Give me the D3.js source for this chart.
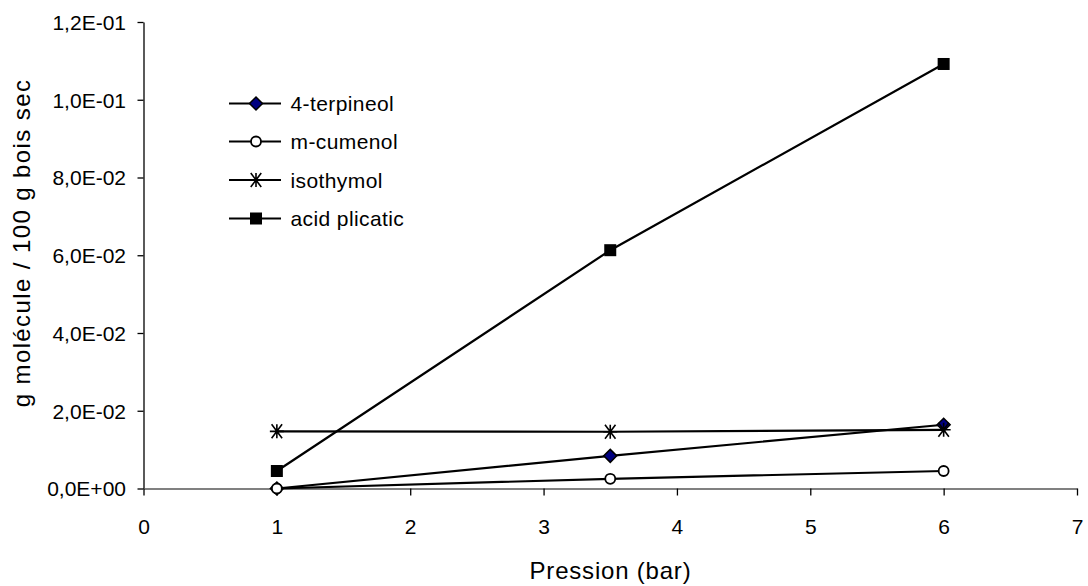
<!DOCTYPE html>
<html><head><meta charset="utf-8">
<script src="https://cdn.jsdelivr.net/npm/d3@7"></script>
<style>body{margin:0;background:#fff;}svg{display:block;font-family:"Liberation Sans",Arial,sans-serif;}</style>
</head><body><svg id="c" width="1088" height="586"></svg>
<script>
const pressures = [1, 3.5, 6];
const terpineol = [0.0, 0.0084, 0.0164];
const cumenol = [0.0, 0.0025, 0.0045];
const isothymol = [0.0147, 0.0146, 0.0151];
const acidPlicatic = [0.0045, 0.0613, 0.1092];
const seriesNames = ["4-terpineol", "m-cumenol", "isothymol", "acid plicatic"];
const seriesMarkers = ["diamond", "circle", "star", "square"];
const xTicks = [0,1,2,3,4,5,6,7];
const yTicks = [0,0.02,0.04,0.06,0.08,0.10,0.12];
const yTickLabels = ["0,0E+00","2,0E-02","4,0E-02","6,0E-02","8,0E-02","1,0E-01","1,2E-01"];

const seriesValues = [terpineol, cumenol, isothymol, acidPlicatic];
const FONT = "Liberation Sans, Arial, sans-serif";
const svg = d3.select("#c");
const x = d3.scaleLinear().domain([0,7]).range([143.5,1077]);
const y = d3.scaleLinear().domain([0,0.12]).range([488.5,22]);

// y axis
const ya = svg.append("g").attr("transform","translate(143.5,0)")
  .call(d3.axisLeft(y).tickValues(yTicks).tickSize(6).tickSizeOuter(0).tickFormat((d,i)=>yTickLabels[i]));
ya.select(".domain").attr("stroke","#000").attr("stroke-width",1.3);
ya.selectAll(".tick line").attr("stroke","#000").attr("stroke-width",1.3);
ya.selectAll(".tick text").attr("font-size",21).attr("fill","#000").attr("x",-17.5).attr("dy","0.35em").attr("font-family",FONT);

// x axis
const xa = svg.append("g").attr("transform","translate(0,488.5)")
  .call(d3.axisBottom(x).tickValues(xTicks).tickSize(7).tickSizeOuter(0).tickFormat(d3.format("d")));
xa.select(".domain").attr("stroke","#808080").attr("stroke-width",2);
xa.selectAll(".tick line").attr("stroke","#000").attr("stroke-width",1.3);
xa.selectAll(".tick text").attr("font-size",21).attr("fill","#000").attr("y",45.5).attr("dy",0).attr("font-family",FONT);

svg.append("text").attr("x",610.5).attr("y",579).attr("text-anchor","middle").attr("font-size",24)
  .attr("letter-spacing",0.8).text("Pression (bar)");
svg.append("text").attr("transform","translate(30,243) rotate(-90)").attr("text-anchor","middle").attr("font-size",24)
  .attr("letter-spacing",1.4).text("g molécule / 100 g bois sec");

function drawMarker(g, type, cx, cy){
  if(type==="diamond"){
    g.append("path").attr("d",`M${cx},${cy-6.5}L${cx+6.5},${cy}L${cx},${cy+6.5}L${cx-6.5},${cy}Z`)
     .attr("fill","#000080").attr("stroke","#000").attr("stroke-width",1.5);
  } else if(type==="circle"){
    g.append("circle").attr("cx",cx).attr("cy",cy).attr("r",5).attr("fill","#fff").attr("stroke","#000").attr("stroke-width",1.8);
  } else if(type==="square"){
    g.append("rect").attr("x",cx-6).attr("y",cy-6).attr("width",12).attr("height",12).attr("fill","#000");
  } else if(type==="star"){
    const r=7;
    g.append("path").attr("d",`M${cx-r},${cy}L${cx+r},${cy}M${cx-r*0.75},${cy-r}L${cx+r*0.75},${cy+r}M${cx+r*0.75},${cy-r}L${cx-r*0.75},${cy+r}M${cx},${cy-r}L${cx},${cy+r}`)
     .attr("stroke","#000").attr("stroke-width",1.6).attr("fill","none");
  }
}

const line = d3.line().x(d=>x(d[0])).y(d=>y(d[1]));
seriesValues.forEach((vals,i)=>{
  const pts = pressures.map((p,j)=>[p,vals[j]]);
  const g = svg.append("g");
  g.append("path").attr("d",line(pts)).attr("fill","none").attr("stroke","#000").attr("stroke-width",2.2);
  pts.forEach(p=>drawMarker(g, seriesMarkers[i], x(p[0]), y(p[1])));
});

// legend
const legY = [103.5, 141.5, 180, 218.5];
seriesNames.forEach((n,i)=>{
  const g = svg.append("g");
  g.append("line").attr("x1",229).attr("x2",281).attr("y1",legY[i]).attr("y2",legY[i]).attr("stroke","#000").attr("stroke-width",2.2);
  drawMarker(g, seriesMarkers[i], 256, legY[i]);
  g.append("text").attr("x",290.5).attr("y",legY[i]).attr("dy","0.36em").attr("font-size",21).attr("letter-spacing",0.4).text(n);
});
</script></body></html>
